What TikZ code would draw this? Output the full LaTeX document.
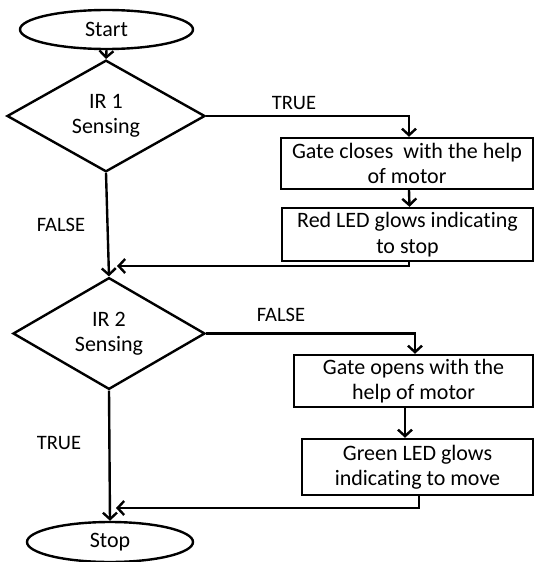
\documentclass[tikz,border=0pt]{standalone}
\usepackage{fontspec}
\setmainfont{Carlito}[Ligatures=NoCommon]
\usetikzlibrary{shapes.geometric,arrows.meta,calc}
\begin{document}
\begin{tikzpicture}[x=1pt,y=-1pt,
  line width=2.4pt,
  every node/.style={font=\fontsize{22}{25.5}\selectfont},
  term/.style={draw,ellipse,inner sep=0pt},
  decision/.style={draw,diamond,inner sep=0pt,align=center},
  procbox/.style={draw,rectangle,inner sep=0pt,align=center},
  lbl/.style={inner sep=0pt,font=\fontsize{20.5}{24}\selectfont},
  arr/.style={-{Straight Barb[length=6.5pt,width=14pt]}}]
\useasboundingbox (0,0) rectangle (534,562);
\node[term,minimum width=173pt,minimum height=39pt] (start) at (106.5,29.5) {Start};
\node[decision,minimum width=198pt,minimum height=82pt] (d1) at (106,116) {IR 1\\Sensing};
\node[decision,minimum width=192pt,minimum height=83pt] (d2) at (109,333.5) {IR 2\\Sensing};
\node[term,minimum width=166pt,minimum height=40pt] (stop) at (110,542) {Stop};
\node[procbox,minimum width=252pt,minimum height=51pt] (b1) at (407,163.5) {Gate closes~ with the help\\of motor};
\node[procbox,minimum width=251pt,minimum height=53pt] (b2) at (407.5,234.5) {Red LED glows indicating\\to stop};
\node[procbox,minimum width=239pt,minimum height=52pt] (b3) at (413.5,381) {Gate opens with the\\help of motor};
\node[procbox,minimum width=231pt,minimum height=56pt] (b4) at (417.5,467) {Green LED glows\\indicating to move};
\node[lbl] (t1) at (294,103) {TRUE};
\node[lbl] (f1) at (61,225) {FALSE};
\node[lbl] (f2) at (281,315) {FALSE};
\node[lbl] (t2) at (59,443) {TRUE};
\coordinate (m1) at (117,266);
\coordinate (m2) at (116,508);
\draw[arr] (start.south) -- (d1.north);
\draw[arr] (d1.east) -| ([xshift=2pt]b1.north);
\draw[arr] ([xshift=2pt]b1.south) -- ([xshift=2pt]b2.north);
\draw[arr] ([xshift=1.5pt]b2.south) |- (m1);
\draw[arr] (d1.south) -- (d2.north);
\draw[arr] (d2.east) -| ([xshift=1.5pt]b3.north);
\draw[arr] ([xshift=-8.5pt]b3.south) -- ([xshift=-8.5pt]b3.south |- b4.north);
\draw[arr] ([xshift=1.5pt]b4.south) |- (m2);
\draw[arr] (d2.south) -- (stop.north);
\end{tikzpicture}
\end{document}
